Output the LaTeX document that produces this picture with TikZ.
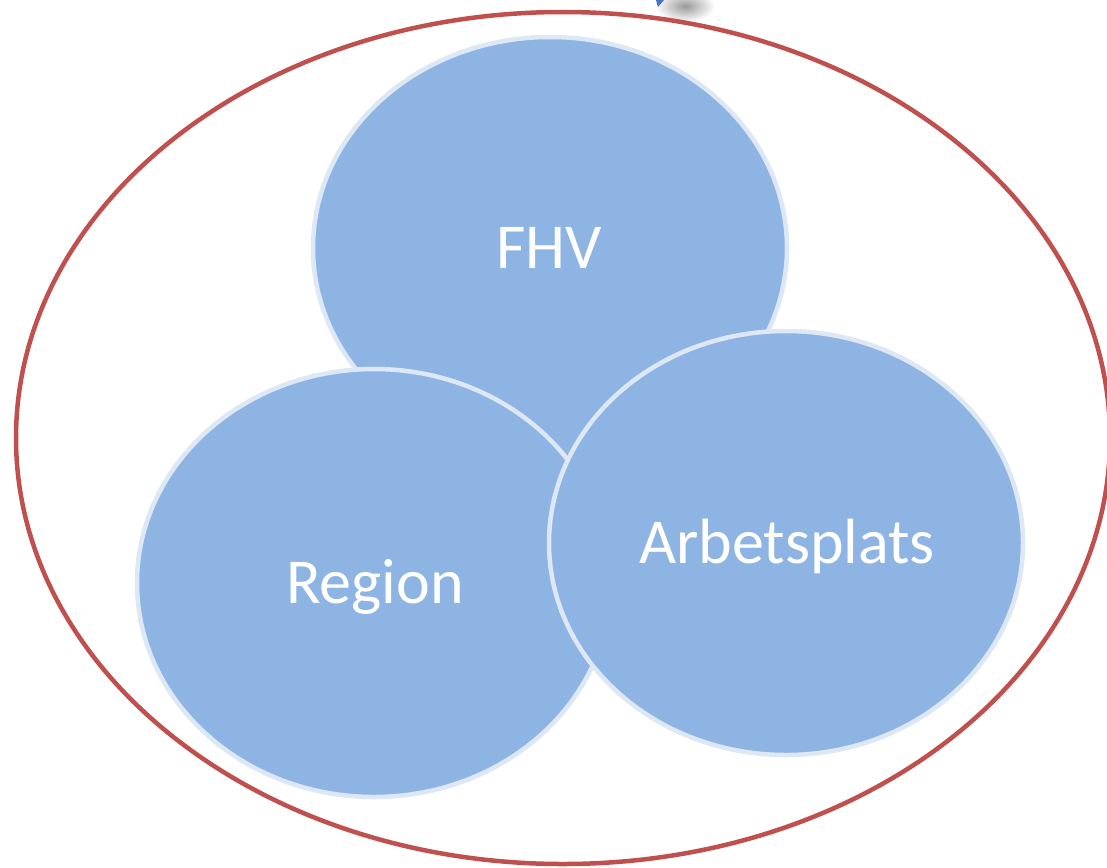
\documentclass[tikz,border=0pt]{standalone}
\usepackage{fontspec}
\setmainfont{Carlito}
\usetikzlibrary{shapes.geometric}
\definecolor{bubble}{RGB}{142,180,227}
\definecolor{rim}{RGB}{222,232,245}
\definecolor{outer}{RGB}{192,80,77}
\definecolor{tip}{RGB}{68,114,196}
\tikzset{
  bubblestyle/.style={ellipse, fill=bubble, draw=rim, line width=4.5pt, inner sep=0pt, minimum width=474pt, minimum height=422pt},
  bubbletext/.style={anchor=base, text=white, font=\fontsize{64}{70}\selectfont},
}
\begin{document}
\begin{tikzpicture}[x=1pt,y=-1pt]
\useasboundingbox (0,0) rectangle (1107,867);
% fragment of something cut off at top
\shade[inner color=black!40, outer color=white] (685,6) ellipse (30 and 16);
\fill[tip] (656,0) -- (664,0) -- (658,7) -- cycle;
\node[ellipse, draw=outer, line width=4.5pt, inner sep=0pt, minimum width=1094pt, minimum height=852pt] (outerring) at (563,438) {};
\node[bubblestyle] (fhv) at (550,248) {};
\node[bubblestyle, minimum height=428pt] (region) at (374,583) {};
\node[bubblestyle, minimum height=424pt] (arb) at (786,543) {};
\node[bubbletext] (fhvt) at (549,268) {FHV};
\node[bubbletext] (regiont) at (375,603) {Region};
\node[bubbletext] (arbt) at (787,563) {Arbetsplats};
\end{tikzpicture}
\end{document}
